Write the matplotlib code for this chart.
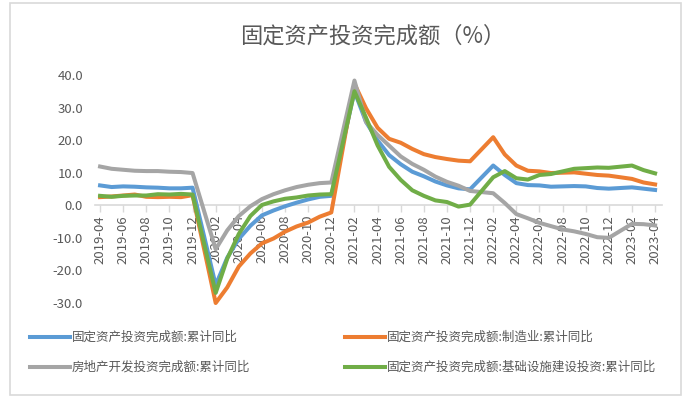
import numpy as np
import pandas as pd
import matplotlib
matplotlib.use("Agg")
import matplotlib.pyplot as plt
from matplotlib.patches import Rectangle

plt.rcParams['font.family'] = ['Noto Sans CJK SC', 'DejaVu Sans']

# monthly cumulative data (no January release)
months = [
    "2019-04", "2019-05", "2019-06", "2019-07", "2019-08", "2019-09", "2019-10", "2019-11", "2019-12",
    "2020-02", "2020-03", "2020-04", "2020-05", "2020-06", "2020-07", "2020-08", "2020-09", "2020-10", "2020-11", "2020-12",
    "2021-02", "2021-03", "2021-04", "2021-05", "2021-06", "2021-07", "2021-08", "2021-09", "2021-10", "2021-11", "2021-12",
    "2022-02", "2022-03", "2022-04", "2022-05", "2022-06", "2022-07", "2022-08", "2022-09", "2022-10", "2022-11", "2022-12",
    "2023-02", "2023-03", "2023-04",
]
fai_total = [
    6.1, 5.6, 5.8, 5.7, 5.5, 5.4, 5.2, 5.2, 5.4,
    -24.5, -16.1, -10.3, -6.3, -3.1, -1.6, -0.3, 0.8, 1.8, 2.6, 2.9,
    35.0, 25.6, 19.9, 15.4, 12.6, 10.3, 8.9, 7.3, 6.1, 5.2, 4.9,
    12.2, 9.3, 6.8, 6.2, 6.1, 5.7, 5.8, 5.9, 5.8, 5.3, 5.1,
    5.5, 5.1, 4.7,
]
fai_manufacturing = [
    2.5, 2.7, 3.0, 3.3, 2.6, 2.5, 2.6, 2.5, 3.1,
    -30.0, -25.2, -18.8, -14.8, -11.7, -10.2, -8.1, -6.5, -5.3, -3.5, -2.2,
    37.3, 29.8, 23.8, 20.4, 19.2, 17.3, 15.7, 14.8, 14.2, 13.7, 13.5,
    20.9, 15.6, 12.2, 10.6, 10.4, 9.9, 10.0, 10.1, 9.7, 9.3, 9.1,
    8.1, 7.0, 6.4,
]
real_estate = [
    11.9, 11.2, 10.9, 10.6, 10.5, 10.5, 10.3, 10.2, 9.9,
    -13.5, -7.7, -3.3, -0.3, 1.9, 3.4, 4.6, 5.6, 6.3, 6.8, 7.0,
    38.3, 25.6, 21.6, 18.3, 15.0, 12.7, 10.9, 8.8, 7.2, 6.0, 4.4,
    3.7, 0.7, -2.7, -4.0, -5.4, -6.4, -7.4, -8.0, -8.8, -9.8, -10.0,
    -5.7, -5.8, -6.2,
]
infrastructure = [
    2.9, 2.6, 2.9, 3.0, 3.0, 3.4, 3.3, 3.5, 3.3,
    -26.9, -16.4, -8.8, -3.3, 0.1, 1.2, 2.0, 2.4, 3.0, 3.3, 3.4,
    35.0, 26.9, 18.4, 11.8, 7.8, 4.6, 2.9, 1.5, 1.0, -0.4, 0.2,
    8.6, 10.5, 8.3, 7.9, 9.3, 9.6, 10.4, 11.2, 11.4, 11.6, 11.5,
    12.2, 10.8, 9.8,
]

series_names = [
    "固定资产投资完成额:累计同比",
    "固定资产投资完成额:制造业:累计同比",
    "房地产开发投资完成额:累计同比",
    "固定资产投资完成额:基础设施建设投资:累计同比",
]
series_colors = ["#5B9BD5", "#ED7D31", "#A5A5A5", "#70AD47"]
y_ticks = [-30, -20, -10, 0, 10, 20, 30, 40]

TEXT_GRAY = "#595959"
LINE_GRAY = "#D9D9D9"


def month_index(labels, start):
    """ months elapsed since start, so the axis behaves like a date axis """
    base = pd.Period(start, freq="M")
    return np.array([(pd.Period(m, freq="M") - base).n for m in labels])


def main():
    fig = plt.figure(figsize=(6.93, 3.98), dpi=100)
    ax = fig.add_axes([0.1377, 0.2387, 0.8176, 0.5729])

    x = month_index(months, months[0])
    values = [fai_total, fai_manufacturing, real_estate, infrastructure]
    lines = []
    for vals, name, color in zip(values, series_names, series_colors):
        line, = ax.plot(x, vals, color=color, lw=2.9, label=name,
                        solid_joinstyle="round", clip_on=False)
        lines.append(line)

    ax.set_xlim(-0.4, x[-1] + 0.6)
    ax.set_ylim(y_ticks[0], y_ticks[-1])

    # tick every second month, labelled yyyy-mm
    periods = pd.period_range(months[0], months[-1], freq="M")[::2]
    ax.set_xticks(month_index(periods.strftime("%Y-%m"), months[0]))
    ax.set_xticklabels(periods.strftime("%Y-%m"))
    ax.set_yticks(y_ticks)
    ax.set_yticklabels([f"{v:.1f}" for v in y_ticks])

    for side in ["left", "top", "right"]:
        ax.spines[side].set_visible(False)
    ax.spines["bottom"].set_position(("data", 0))
    ax.spines["bottom"].set_color(LINE_GRAY)
    ax.spines["bottom"].set_linewidth(1.2)
    ax.spines["bottom"].set_zorder(0)

    ax.tick_params(axis="x", length=5, width=1, color=LINE_GRAY, labelrotation=90,
                   labelsize=9.5, labelcolor=TEXT_GRAY, pad=2)
    ax.tick_params(axis="y", length=0, labelsize=9.5, labelcolor=TEXT_GRAY, pad=9)

    fig.text(0.537, 0.91, "固定资产投资完成额（%）", ha="center", va="center",
             fontsize=16, color=TEXT_GRAY)

    # row-major order: matplotlib fills legend columns first
    order = [0, 2, 1, 3]
    leg = fig.legend([lines[i] for i in order], [series_names[i] for i in order],
                     ncol=2, loc="upper left", bbox_to_anchor=(30 / 693, 1 - 331 / 398),
                     frameon=False, fontsize=9, handlelength=3.2, handletextpad=0.15,
                     columnspacing=7.6, labelspacing=1.35, borderaxespad=0, borderpad=0)
    for text in leg.get_texts():
        text.set_color(TEXT_GRAY)

    fig.add_artist(Rectangle((10 / 693, 3 / 398), 671 / 693, 392 / 398,
                             transform=fig.transFigure, fill=False,
                             edgecolor=LINE_GRAY, lw=1.2))

    fig.savefig("out.png", dpi=100)


if __name__ == "__main__":
    main()
